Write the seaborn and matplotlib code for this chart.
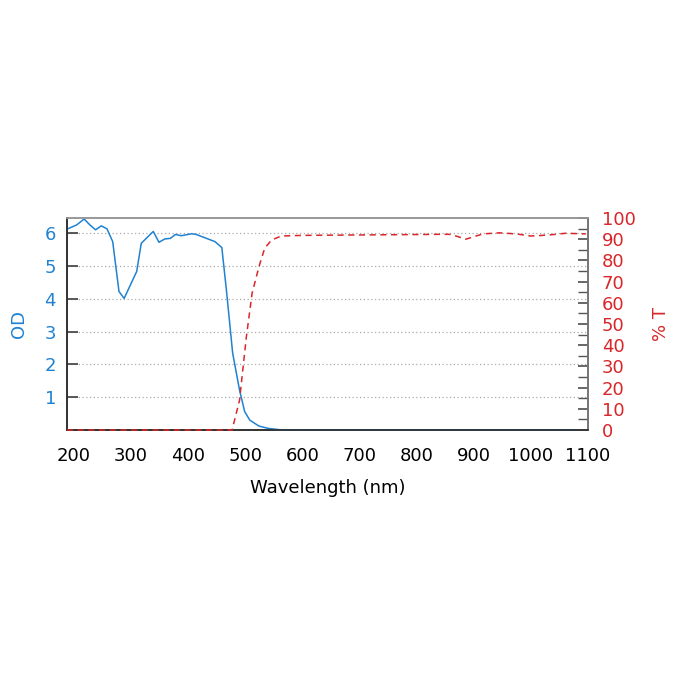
import numpy as np
import pandas as pd
import matplotlib
matplotlib.use("Agg")
import matplotlib.pyplot as plt
import seaborn as sns

# OD curve (blue, left axis)
od_nm = [188, 205, 218, 228, 238, 248, 258, 268, 279, 288, 310, 318, 339, 349,
         359, 369, 378, 388, 406, 414, 432, 447, 459, 467, 478, 490, 499, 508,
         524, 540, 560, 600, 700, 800, 900, 1000, 1100]
od_val = [6.12, 6.25, 6.43, 6.25, 6.10, 6.22, 6.13, 5.74, 4.22, 4.01, 4.83, 5.69,
          6.05, 5.72, 5.82, 5.84, 5.96, 5.92, 5.98, 5.96, 5.84, 5.74, 5.56, 4.27,
          2.34, 1.22, 0.56, 0.30, 0.12, 0.05, 0.01, 0.0, 0.0, 0.0, 0.0, 0.0, 0.0]

# Transmission curve (red dashed, right axis)
t_nm = [188, 300, 400, 477, 490, 502, 512, 524, 534, 546, 563, 600, 700, 800,
        840, 857, 869, 886, 916, 945, 974, 1000, 1032, 1061, 1096]
t_val = [0, 0, 0, 0, 14, 44, 64.5, 77, 85.7, 89.6, 91.5, 91.8, 92.0, 92.2,
         92.3, 92.3, 91.5, 90.0, 92.5, 93.0, 92.5, 91.5, 92.0, 92.8, 92.5]

od_df = pd.DataFrame({"nm": od_nm, "od": od_val})
t_df = pd.DataFrame({"nm": t_nm, "t": t_val})

sns.set_theme(style="white")
plt.rcParams["font.family"] = ["DejaVu Sans"]

blue = "#1f82d2"
red = "#d9262a"

fig = plt.figure(figsize=(7, 7), dpi=100)
ax = fig.add_axes([67 / 700, 270 / 700, 521 / 700, 212 / 700])
ax2 = ax.twinx()

sns.lineplot(data=od_df, x="nm", y="od", ax=ax, color=blue, linewidth=1.1,
             clip_on=False, zorder=5)
sns.lineplot(data=t_df, x="nm", y="t", ax=ax2, color=red, linewidth=1.1,
             linestyle=(0, (4, 3)), clip_on=False, zorder=5)

ax.set_xlim(188, 1100)
ax.set_ylim(0, 6.46)
ax2.set_ylim(0, 100)

ax.set_xticks(range(200, 1101, 100))
ax.set_yticks(range(1, 7))
ax2.set_yticks(range(0, 101, 10))
ax2.set_yticks(range(0, 101, 5), minor=True)

ax.yaxis.grid(True, linestyle=(0, (1, 2)), color="#aaaaaa", linewidth=0.9)
ax.xaxis.grid(False)

ax.tick_params(axis="x", direction="in", length=8, color="#444444",
               labelsize=13, pad=12, labelcolor="black")
ax.tick_params(axis="y", direction="in", length=8, color="#444444",
               labelsize=13, labelcolor=blue, pad=8)
ax2.tick_params(axis="y", which="both", direction="in", length=7, color="#555555",
                labelsize=13, labelcolor=red, pad=10)

ax.set_xlabel("Wavelength (nm)", fontsize=13, labelpad=10, color="black")
ax.set_ylabel("OD", fontsize=13, color=blue, labelpad=12)
ax2.set_ylabel("% T", fontsize=13, color=red, labelpad=12)

for a in (ax, ax2):
    a.spines["top"].set_color("#999999")
    a.spines["right"].set_color("#777777")
    a.spines["left"].set_color("#333333")
    a.spines["bottom"].set_color("#333333")

plt.savefig("out.png", dpi=100)
